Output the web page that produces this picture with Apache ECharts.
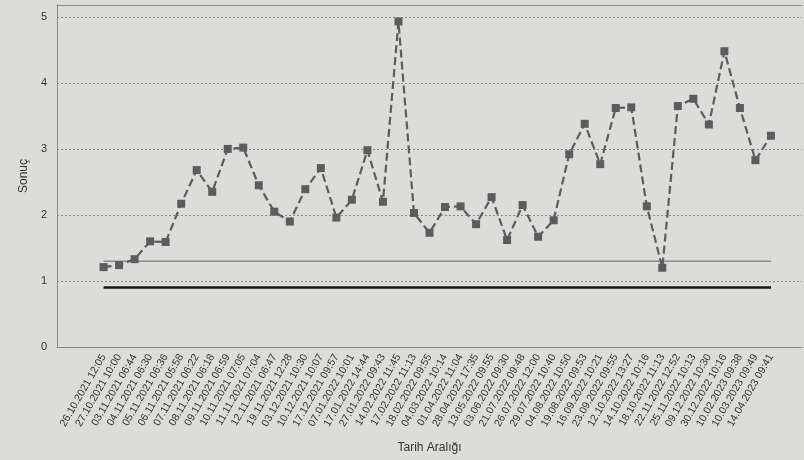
<!DOCTYPE html>
<html>
<head>
<meta charset="utf-8">
<script src="https://cdn.jsdelivr.net/npm/echarts@6/dist/echarts.min.js"></script>
<style>html,body{margin:0;padding:0;background:#dcdcda;}#c{width:804px;height:460px;}</style>
</head>
<body>
<div id="c"></div>
<script>
const categories = [
  "26.10.2021 12:05","27.10.2021 10:00","03.11.2021 06:44","04.11.2021 06:30","05.11.2021 06:36",
  "06.11.2021 05:58","07.11.2021 06:22","08.11.2021 06:18","09.11.2021 06:59","10.11.2021 07:05",
  "11.11.2021 07:04","12.11.2021 06:47","19.11.2021 12:28","03.12.2021 10:30","10.12.2021 10:07",
  "17.12.2021 09:57","07.01.2022 10:01","17.01.2022 14:44","27.01.2022 09:43","14.02.2022 11:45",
  "17.02.2022 11:13","18.02.2022 09:55","04.03.2022 10:14","01.04.2022 11:04","28.04.2022 17:35",
  "13.05.2022 09:55","03.06.2022 09:30","21.07.2022 09:48","26.07.2022 12:00","29.07.2022 10:40",
  "04.08.2022 10:50","19.08.2022 09:53","16.09.2022 10:21","23.09.2022 09:55","12.10.2022 13:27",
  "14.10.2022 10:16","18.10.2022 11:13","22.11.2022 12:52","25.11.2022 10:13","09.12.2022 10:30",
  "30.12.2022 10:16","10.02.2023 09:38","10.03.2023 09:49","14.04.2023 09:41"
];
const results = [
  1.21,1.24,1.33,1.60,1.59,2.17,2.68,2.35,3.00,3.02,
  2.45,2.05,1.90,2.39,2.71,1.96,2.23,2.98,2.20,4.93,
  2.03,1.73,2.12,2.13,1.86,2.27,1.62,2.15,1.67,1.92,
  2.92,3.38,2.77,3.62,3.63,2.13,1.20,3.65,3.76,3.37,
  4.48,3.62,2.83,3.20
];
const yTicks = [0,1,2,3,4,5];
const grayLimit = 1.3;
const blackLimit = 0.9;

const chart = echarts.init(document.getElementById('c'), null, {renderer:'canvas'});
const idx = results.map((v,i)=>[i,v]);
const last = categories.length - 1;
chart.setOption({
  backgroundColor: '#dcdcda',
  animation: false,
  grid: {left: 57, right: 2, top: 5, bottom: 113},
  xAxis: [{
    type: 'value', min: -3, max: 45, interval: 1,
    name: 'Tarih Aralığı', nameLocation: 'middle', nameGap: 95,
    nameTextStyle: {fontSize: 12, color: '#333', fontFamily: 'Liberation Sans'},
    axisLine: {show: true, onZero: false, lineStyle: {color: '#8a8a8a', width: 1}},
    axisTick: {show: false},
    splitLine: {show: false},
    axisLabel: {
      rotate: 60, fontSize: 10.5, color: '#333', fontFamily: 'Liberation Sans', margin: 8,
      showMinLabel: true, showMaxLabel: true,
      formatter: v => (v >= 0 && v <= last && Number.isInteger(v)) ? categories[v] : ''
    }
  }, {
    type: 'value', position: 'top', min: -3, max: 45,
    axisLine: {show: true, onZero: false, lineStyle: {color: '#8a8a8a', width: 1}},
    axisTick: {show: false}, axisLabel: {show: false}, splitLine: {show: false}
  }],
  yAxis: {
    type: 'value', min: 0, max: 5.18, interval: 1,
    name: 'Sonuç', nameLocation: 'middle', nameGap: 24, nameRotate: 90,
    nameTextStyle: {fontSize: 12, color: '#333', fontFamily: 'Liberation Sans'},
    axisLine: {show: true, onZero: false, lineStyle: {color: '#8a8a8a', width: 1}},
    axisTick: {show: false},
    axisLabel: {fontSize: 11, color: '#333', fontFamily: 'Liberation Sans', margin: 10,
      formatter: v => yTicks.includes(v) ? String(v) : ''},
    splitLine: {show: true, lineStyle: {color: '#888', type: [2,2], width: 1}}
  },
  series: [
    {
      type: 'line', data: [[0, grayLimit],[last, grayLimit]], symbol: 'none',
      lineStyle: {color: '#8c8c8c', width: 1.5}, silent: true, z: 1
    },
    {
      type: 'line', data: [[0, blackLimit],[last, blackLimit]], symbol: 'none',
      lineStyle: {color: '#151515', width: 2.5}, silent: true, z: 1
    },
    {
      type: 'line', data: idx, symbol: 'rect', symbolSize: 8,
      itemStyle: {color: '#5c5c5c'},
      lineStyle: {color: '#5c5c5c', width: 2.2, type: [8,4]}, z: 3
    }
  ]
});
</script>
</body>
</html>
